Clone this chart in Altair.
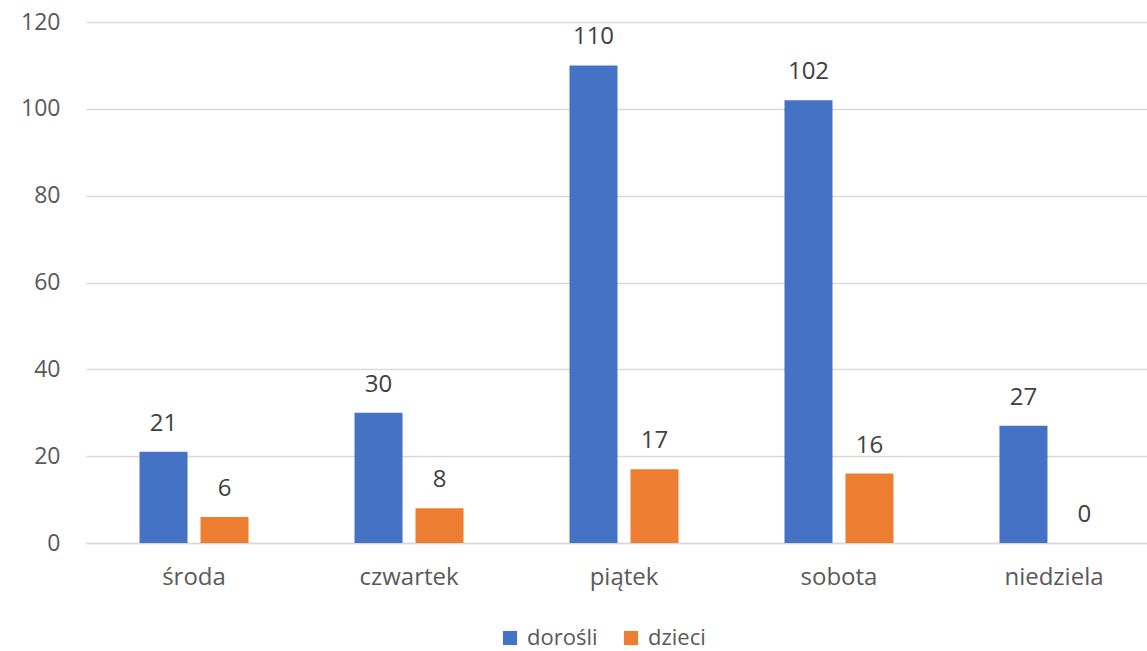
import altair as alt
import pandas as pd

# Visitors per day, adults vs children
days = ["środa", "czwartek", "piątek", "sobota", "niedziela"]
series = ["dorośli", "dzieci"]
adults = [21, 30, 110, 102, 27]
children = [6, 8, 17, 16, 0]
colors = ["#4472C4", "#ED7D31"]

rows = []
for d, a, c in zip(days, adults, children):
    rows.append({"dzien": d, "grupa": series[0], "liczba": a})
    rows.append({"dzien": d, "grupa": series[1], "liczba": c})
df = pd.DataFrame(rows)

FONT = "Open Sans"

x_enc = alt.X(
    "dzien:N",
    sort=days,
    title=None,
    scale=alt.Scale(range=[0, 1076], paddingInner=0.493, paddingOuter=0.249),
    axis=alt.Axis(
        labelAngle=0, labelFontSize=24, labelColor="#595959", labelFont=FONT,
        labelPadding=22, ticks=False, domain=True, domainColor="#D9D9D9",
        domainWidth=1.5, grid=False,
    ),
)
xoff = alt.XOffset(
    "grupa:N", sort=series,
    scale=alt.Scale(paddingInner=0.213, paddingOuter=0),
)
y_enc = alt.Y(
    "liczba:Q",
    title=None,
    scale=alt.Scale(domain=[0, 120], nice=False),
    axis=alt.Axis(
        values=[0, 20, 40, 60, 80, 100, 120], labelFontSize=23,
        labelColor="#595959", labelFont=FONT, labelPadding=26, ticks=False,
        domain=False, gridColor="#D9D9D9", gridWidth=1.5,
    ),
)
color_enc = alt.Color(
    "grupa:N", sort=series,
    scale=alt.Scale(domain=series, range=colors),
    legend=alt.Legend(
        title=None, orient="none", direction="horizontal", legendX=413,
        legendY=605, symbolType="square", symbolSize=200, symbolStrokeWidth=0,
        labelFontSize=22, labelColor="#595959", labelFont=FONT,
        columnPadding=22, labelOffset=6,
    ),
)

base = alt.Chart(df)
bars = base.mark_bar(size=48).encode(x=x_enc, xOffset=xoff, y=y_enc, color=color_enc)
labels = base.mark_text(
    dy=-21, baseline="alphabetic", fontSize=24, font=FONT, color="#404040"
).encode(x=x_enc, xOffset=xoff, y=y_enc, text="liczba:Q")

chart = (
    alt.layer(bars, labels)
    .properties(
        width=1061, height=521,
        autosize=alt.AutoSizeParams(type="none"),
        padding={"left": 86, "top": 22, "right": 0, "bottom": 108},
        background="white",
    )
    .configure_view(stroke=None)
)

chart.save("out.html", embed_options={"renderer": "svg", "actions": False})
